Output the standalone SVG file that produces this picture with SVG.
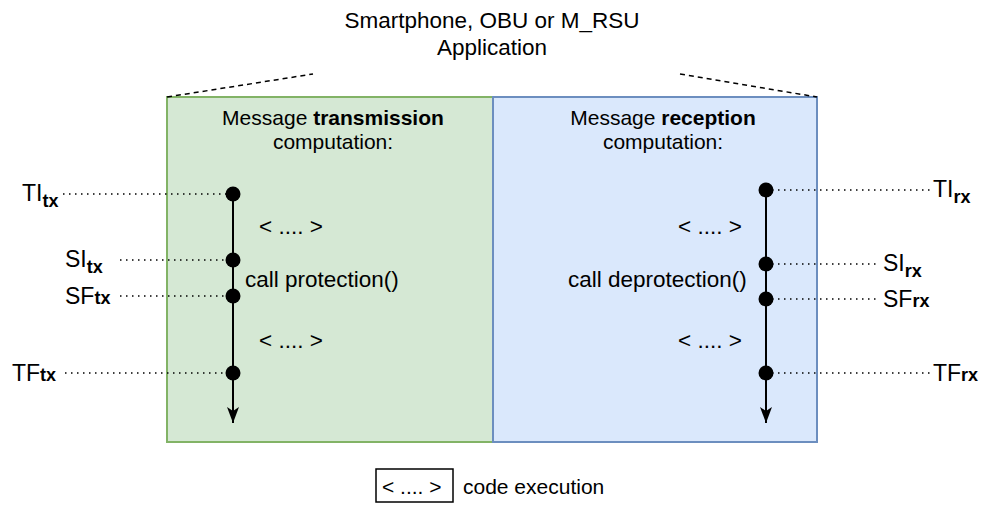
<svg xmlns="http://www.w3.org/2000/svg" width="999" height="512" viewBox="0 0 999 512">
  <defs>
    <style>
      text { font-family: "Liberation Sans", Arial, sans-serif; font-size: 22.5px; fill: #000; }
      .c { text-anchor: middle; }
      .b { font-weight: bold; }
      .head { font-size: 21px; }
      .lbl { font-size: 23px; }
      .sub { font-weight: bold; font-size: 18px; }
      .dot { stroke: #000; stroke-width: 1.5; stroke-dasharray: 1.5 4.5; fill: none; }
      .dash { stroke: #000; stroke-width: 1.5; stroke-dasharray: 5 4; fill: none; }
      .axis { stroke: #000; stroke-width: 2; fill: none; }
      .pt { fill: #000; }
    </style>
    <marker id="arrow" viewBox="0 0 16 12" refX="16" refY="6" markerWidth="16" markerHeight="12" markerUnits="userSpaceOnUse" orient="auto">
      <path d="M0,0 L16,6 L0,12 L4,6 Z" fill="#000"/>
    </marker>
  </defs>

  <!-- application title -->
  <g id="app-title">
    <text class="c" x="492" y="28">Smartphone, OBU or M_RSU</text>
    <text class="c" x="492" y="55">Application</text>
  </g>

  <!-- transmission side -->
  <g id="tx-panel">
    <rect x="167" y="97" width="326" height="345" fill="#d5e8d4" stroke="#82b366" stroke-width="2"/>
    <text class="c head" x="333" y="125">Message <tspan class="b">transmission</tspan></text>
    <text class="c head" x="333" y="149">computation:</text>
    <text x="259" y="234">&lt; .... &gt;</text>
    <text x="245" y="287">call protection()</text>
    <text x="259" y="348">&lt; .... &gt;</text>
  </g>

  <!-- reception side -->
  <g id="rx-panel">
    <rect x="493" y="97" width="324" height="345" fill="#dae8fc" stroke="#6c8ebf" stroke-width="2"/>
    <text class="c head" x="663" y="125">Message <tspan class="b">reception</tspan></text>
    <text class="c head" x="663" y="149">computation:</text>
    <text x="678" y="234">&lt; .... &gt;</text>
    <text x="568" y="287">call deprotection()</text>
    <text x="678" y="348">&lt; .... &gt;</text>
  </g>

  <!-- connectors -->
  <g id="connectors">
    <line class="dash" x1="167" y1="97" x2="313" y2="74"/>
    <line class="dash" x1="680" y1="74" x2="817" y2="97"/>

    <line class="axis" x1="233" y1="194" x2="233" y2="423" marker-end="url(#arrow)"/>
    <line class="axis" x1="766" y1="190" x2="766" y2="423" marker-end="url(#arrow)"/>

    <line class="dot" x1="63" y1="194" x2="233" y2="194"/>
    <line class="dot" x1="120" y1="260" x2="233" y2="260"/>
    <line class="dot" x1="120" y1="296" x2="233" y2="296"/>
    <line class="dot" x1="65" y1="373" x2="233" y2="373"/>

    <line class="dot" x1="766" y1="190" x2="930" y2="190"/>
    <line class="dot" x1="766" y1="264" x2="876" y2="264"/>
    <line class="dot" x1="766" y1="299" x2="876" y2="299"/>
    <line class="dot" x1="766" y1="373" x2="930" y2="373"/>
  </g>

  <!-- timestamps, transmission -->
  <g id="tx-points">
    <circle class="pt" cx="233" cy="194" r="7.5"/>
    <circle class="pt" cx="233" cy="260" r="7.5"/>
    <circle class="pt" cx="233" cy="296" r="7.5"/>
    <circle class="pt" cx="233" cy="373" r="7.5"/>
    <text class="lbl" x="22" y="201">TI<tspan class="sub" dy="6">tx</tspan></text>
    <text class="lbl" x="65" y="267">SI<tspan class="sub" dy="6">tx</tspan></text>
    <text class="lbl" x="65" y="304">SF<tspan class="sub">tx</tspan></text>
    <text class="lbl" x="12" y="381">TF<tspan class="sub">tx</tspan></text>
  </g>

  <!-- timestamps, reception -->
  <g id="rx-points">
    <circle class="pt" cx="766" cy="190" r="7.5"/>
    <circle class="pt" cx="766" cy="264" r="7.5"/>
    <circle class="pt" cx="766" cy="299" r="7.5"/>
    <circle class="pt" cx="766" cy="373" r="7.5"/>
    <text class="lbl" x="933" y="197">TI<tspan class="sub" dy="6">rx</tspan></text>
    <text class="lbl" x="883" y="271">SI<tspan class="sub" dy="6">rx</tspan></text>
    <text class="lbl" x="883" y="307">SF<tspan class="sub">rx</tspan></text>
    <text class="lbl" x="933" y="381">TF<tspan class="sub">rx</tspan></text>
  </g>

  <!-- legend -->
  <g id="legend">
    <rect x="376" y="469" width="77" height="33" fill="#fff" stroke="#000" stroke-width="1.5"/>
    <text class="head" x="382" y="494">&lt; .... &gt;</text>
    <text class="head" x="463" y="494">code execution</text>
  </g>
</svg>
